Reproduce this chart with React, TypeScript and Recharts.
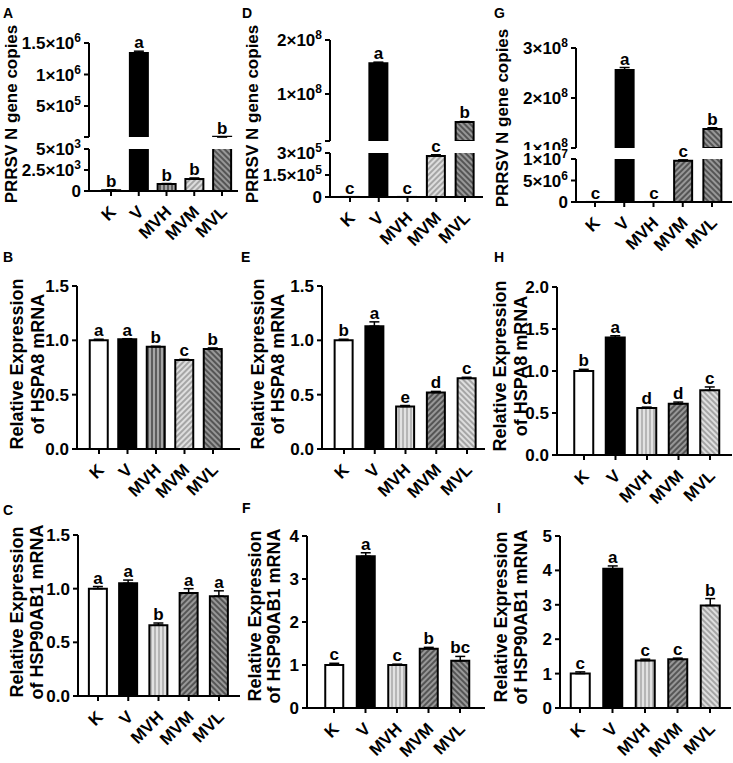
import React from "react"
import { BarChart, Bar, XAxis, YAxis, ErrorBar, LabelList, Cell } from "recharts"

const FONT = "'Liberation Sans', Arial, sans-serif"

const groups = ["K", "V", "MVH", "MVM", "MVL"]

// PRRSV N gene copies (A, D, G)
const copiesA = [100, 1340000, 830, 1430, 10000]
const copiesAErr = [40, 30000, 60, 120, 700]
const copiesASig = ["b", "a", "b", "b", "b"]
const copiesD = [500, 157000000, 500, 280000, 48000000]
const copiesDErr = [100, 2000000, 100, 8000, 1200000]
const copiesDSig = ["c", "a", "c", "c", "b"]
const copiesG = [10000, 256000000, 10000, 9600000, 138000000]
const copiesGErr = [1000, 5000000, 1000, 200000, 2500000]
const copiesGSig = ["c", "a", "c", "c", "b"]

// HSPA8 mRNA (B, E, H)
const hspa8B = [1.0, 1.01, 0.94, 0.82, 0.92]
const hspa8BErr = [0.01, 0.005, 0.005, 0.005, 0.01]
const hspa8BSig = ["a", "a", "b", "c", "b"]
const hspa8E = [1.0, 1.13, 0.39, 0.52, 0.65]
const hspa8EErr = [0.01, 0.04, 0.01, 0.01, 0.01]
const hspa8ESig = ["b", "a", "e", "d", "c"]
const hspa8H = [1.0, 1.4, 0.56, 0.61, 0.77]
const hspa8HErr = [0.02, 0.02, 0.01, 0.02, 0.04]
const hspa8HSig = ["b", "a", "d", "d", "c"]

// HSP90AB1 mRNA (C, F, I)
const hsp90C = [1.0, 1.05, 0.66, 0.96, 0.93]
const hsp90CErr = [0.02, 0.03, 0.02, 0.04, 0.05]
const hsp90CSig = ["a", "a", "b", "a", "a"]
const hsp90F = [1.0, 3.53, 1.0, 1.38, 1.1]
const hsp90FErr = [0.04, 0.08, 0.02, 0.03, 0.1]
const hsp90FSig = ["c", "a", "c", "b", "bc"]
const hsp90I = [1.0, 4.05, 1.38, 1.42, 2.98]
const hsp90IErr = [0.05, 0.08, 0.04, 0.03, 0.2]
const hsp90ISig = ["c", "a", "c", "c", "b"]

// y ticks
const ticksAUp = [8000, 500000, 1000000, 1500000]
const ticksALow = [0, 2500, 5000]
const ticksDUp = [13000000, 100000000, 200000000]
const ticksDLow = [0, 150000, 300000]
const ticksGUp = [100000000, 200000000, 300000000]
const ticksGLow = [0, 5000000, 10000000]
const ticks15 = [0, 0.5, 1.0, 1.5]
const ticks2 = [0, 0.5, 1.0, 1.5, 2.0]
const ticks4 = [0, 1, 2, 3, 4]
const ticks5 = [0, 1, 2, 3, 4, 5]

const W = "#fff"
const B = "#000"

type Seg = { top: number; bottom: number; domain: [number, number]; ticks: number[]; blank?: number }
type Panel = {
  x0: number; x1: number; c0: number; step: number; bar: number
  mean: number[]; err: number[]; sig: string[]; fills: string[]
  fmt: "sci" | "f1" | "int"; segs: Seg[]
}

const panels: Panel[] = [
  { x0: 89, x1: 238, c0: 111, step: 27.75, bar: 18, mean: copiesA, err: copiesAErr, sig: copiesASig,
    fills: [W, B, "url(#vDark)", "url(#fLight)", "url(#bDark)"], fmt: "sci",
    segs: [{ top: 43, bottom: 137, domain: [8000, 1500000], ticks: ticksAUp, blank: 8000 },
           { top: 149, bottom: 191, domain: [0, 5000], ticks: ticksALow }] },
  { x0: 330, x1: 483, c0: 350, step: 28.75, bar: 18, mean: copiesD, err: copiesDErr, sig: copiesDSig,
    fills: [W, B, "url(#vDark)", "url(#fLight)", "url(#bDark)"], fmt: "sci",
    segs: [{ top: 40, bottom: 141, domain: [13000000, 200000000], ticks: ticksDUp, blank: 13000000 },
           { top: 153, bottom: 197, domain: [0, 300000], ticks: ticksDLow }] },
  { x0: 576, x1: 732, c0: 595, step: 29.25, bar: 18, mean: copiesG, err: copiesGErr, sig: copiesGSig,
    fills: [W, B, "url(#vDark)", "url(#fDark)", "url(#bDark)"], fmt: "sci",
    segs: [{ top: 48, bottom: 148, domain: [100000000, 300000000], ticks: ticksGUp },
           { top: 159, bottom: 202, domain: [0, 10000000], ticks: ticksGLow }] },
  { x0: 77, x1: 240, c0: 99, step: 28.5, bar: 18, mean: hspa8B, err: hspa8BErr, sig: hspa8BSig,
    fills: [W, B, "url(#vDark)", "url(#fLight)", "url(#bDark)"], fmt: "f1",
    segs: [{ top: 286, bottom: 449, domain: [0, 1.5], ticks: ticks15 }] },
  { x0: 322, x1: 485, c0: 344, step: 30.75, bar: 18, mean: hspa8E, err: hspa8EErr, sig: hspa8ESig,
    fills: [W, B, "url(#vLight)", "url(#fDark)", "url(#bLight)"], fmt: "f1",
    segs: [{ top: 286, bottom: 449, domain: [0, 1.5], ticks: ticks15 }] },
  { x0: 557, x1: 732, c0: 584, step: 31.5, bar: 19, mean: hspa8H, err: hspa8HErr, sig: hspa8HSig,
    fills: [W, B, "url(#vLight)", "url(#fDark)", "url(#bLight)"], fmt: "f1",
    segs: [{ top: 287, bottom: 455, domain: [0, 2], ticks: ticks2 }] },
  { x0: 78, x1: 240, c0: 98, step: 30.25, bar: 18, mean: hsp90C, err: hsp90CErr, sig: hsp90CSig,
    fills: [W, B, "url(#vLight)", "url(#fDark)", "url(#bDark)"], fmt: "f1",
    segs: [{ top: 535, bottom: 696, domain: [0, 1.5], ticks: ticks15 }] },
  { x0: 307, x1: 485, c0: 334, step: 31.5, bar: 18, mean: hsp90F, err: hsp90FErr, sig: hsp90FSig,
    fills: [W, B, "url(#vLight)", "url(#fDark)", "url(#bDark)"], fmt: "int",
    segs: [{ top: 536, bottom: 708, domain: [0, 4], ticks: ticks4 }] },
  { x0: 560, x1: 731, c0: 580, step: 32.5, bar: 19, mean: hsp90I, err: hsp90IErr, sig: hsp90ISig,
    fills: [W, B, "url(#vLight)", "url(#fDark)", "url(#bLight)"], fmt: "int",
    segs: [{ top: 536, bottom: 708, domain: [0, 5], ticks: ticks5 }] },
]

const letters = [
  { t: "A", x: 3, y: 18 }, { t: "D", x: 242, y: 18 }, { t: "G", x: 494, y: 18 },
  { t: "B", x: 3, y: 262 }, { t: "E", x: 241, y: 262 }, { t: "H", x: 494, y: 262 },
  { t: "C", x: 3, y: 515 }, { t: "F", x: 242, y: 513 }, { t: "I", x: 497, y: 513 },
]

const titles = [
  { lines: ["PRRSV N gene copies"], xs: [11], y: 114, size: 17 },
  { lines: ["PRRSV N gene copies"], xs: [252], y: 114, size: 17 },
  { lines: ["PRRSV N gene copies"], xs: [502], y: 118, size: 17 },
  { lines: ["Relative Expression", "of HSPA8 mRNA"], xs: [17, 38], y: 364, size: 18 },
  { lines: ["Relative Expression", "of HSPA8 mRNA"], xs: [258, 278], y: 364, size: 18 },
  { lines: ["Relative Expression", "of HSPA8 mRNA"], xs: [500, 521], y: 366, size: 18 },
  { lines: ["Relative Expression", "of HSP90AB1 mRNA"], xs: [17, 37], y: 612, size: 18 },
  { lines: ["Relative Expression", "of HSP90AB1 mRNA"], xs: [255, 274], y: 616, size: 18 },
  { lines: ["Relative Expression", "of HSP90AB1 mRNA"], xs: [501, 521], y: 617, size: 18 },
]

function Patterns() {
  const mk = (id: string, bg: string, fg: string, rot: number, sw: number) => (
    <pattern key={id} id={id} width={4} height={4} patternUnits="userSpaceOnUse" patternTransform={`rotate(${rot})`}>
      <rect width={4} height={4} fill={bg} />
      <line x1={1} y1={-1} x2={1} y2={5} stroke={fg} strokeWidth={sw} />
    </pattern>
  )
  return (
    <svg width={0} height={0} style={{ position: "absolute" }}>
      <defs>
        {mk("vDark", "#5c5c5c", "#d8d8d8", 0, 1.2)}
        {mk("vLight", "#e2e2e2", "#8a8a8a", 0, 1)}
        {mk("fDark", "#555", "#cfcfcf", 45, 1.1)}
        {mk("fLight", "#dedede", "#777", 45, 1.1)}
        {mk("bDark", "#555", "#cfcfcf", -45, 1.1)}
        {mk("bLight", "#dedede", "#777", -45, 1.1)}
      </defs>
    </svg>
  )
}

function tickText(v: number, fmt: string) {
  if (fmt === "f1") return <tspan>{v.toFixed(1)}</tspan>
  if (fmt === "int") return <tspan>{String(v)}</tspan>
  if (v === 0) return <tspan>0</tspan>
  const e = Math.floor(Math.log10(v) + 1e-9)
  const m = +(v / Math.pow(10, e)).toFixed(2)
  return (
    <>
      <tspan>{`${m}×10`}</tspan>
      <tspan dy={-7} fontSize={12}>{String(e)}</tspan>
    </>
  )
}

function SegChart({ p, seg, showX }: { p: Panel; seg: Seg; showX: boolean }) {
  const YW = 76
  const MT = 26
  const MR = 4
  const XH = showX ? 58 : 0
  const plotH = seg.bottom - seg.top
  const plotW = p.x1 - p.x0
  const padL = p.c0 - p.step / 2 - p.x0
  const padR = p.x1 - (p.c0 + 4.5 * p.step)
  const ppu = plotH / (seg.domain[1] - seg.domain[0])
  const inSeg = (v: number) => v >= seg.domain[0] && v <= seg.domain[1]
  const data = groups.map((g, i) => ({
    g,
    v: p.mean[i],
    e: inSeg(p.mean[i]) ? [0, p.err[i]] : null,
    sig: p.sig[i],
  }))

  const renderSig = (props: any) => {
    const i = props.index
    if (!inSeg(p.mean[i])) return null
    const vb = props.viewBox || props
    const bx = vb.x ?? props.x
    const by = vb.y ?? props.y
    const bw = vb.width ?? props.width
    const bh = vb.height ?? props.height
    const top = Math.min(by, by + bh)
    const yy = top - p.err[i] * ppu - 3
    return (
      <text x={bx + bw / 2} y={yy} textAnchor="middle" fontSize={17} fontWeight={700} fontFamily={FONT} fill="#000">
        {props.value}
      </text>
    )
  }

  const YTick = (t: any) => {
    const v = t.payload.value
    if (seg.blank !== undefined && v === seg.blank) return <g />
    return (
      <text x={t.x - 1} y={t.y} dy={6} textAnchor="end" fontSize={17} fontWeight={700} fontFamily={FONT} fill="#000">
        {tickText(v, p.fmt)}
      </text>
    )
  }

  const XTick = (t: any) => (
    <g transform={`translate(${t.x + 6},${t.y + 15})`}>
      <text textAnchor="end" transform="rotate(-45)" fontSize={17} fontWeight={700} fontFamily={FONT} fill="#000">
        {t.payload.value}
      </text>
    </g>
  )

  return (
    <div style={{ position: "absolute", left: p.x0 - YW, top: seg.top - MT }}>
      <BarChart width={YW + plotW + MR} height={MT + plotH + XH + 2} data={data}
        margin={{ top: MT, right: MR, left: 0, bottom: 2 }}>
        <XAxis dataKey="g" hide={!showX} height={XH} interval={0}
          padding={{ left: padL, right: padR }}
          axisLine={{ stroke: "#000", strokeWidth: 2 }} tickLine={{ stroke: "#000", strokeWidth: 2 }}
          tickSize={5} tick={XTick} />
        <YAxis width={YW} type="number" domain={seg.domain} allowDataOverflow ticks={seg.ticks} interval={0}
          axisLine={{ stroke: "#000", strokeWidth: 2 }} tickLine={{ stroke: "#000", strokeWidth: 2 }}
          tickSize={5} tick={YTick} />
        <Bar dataKey="v" barSize={p.bar} stroke="#000" strokeWidth={2} isAnimationActive={false}>
          {data.map((d, i) => {
            const below = d.v < seg.domain[0]
            return <Cell key={d.g} fill={below ? "none" : p.fills[i]} stroke={below ? "none" : "#000"} />
          })}
          <ErrorBar dataKey="e" direction="y" width={5} stroke="#000" strokeWidth={1.5} />
          <LabelList dataKey="sig" content={renderSig} />
        </Bar>
      </BarChart>
    </div>
  )
}

export default function App() {
  return (
    <div style={{ position: "absolute", left: 0, top: 0, width: 733, height: 763, background: "#fff", overflow: "hidden" }}>
      <Patterns />
      <svg width={733} height={763} style={{ position: "absolute", left: 0, top: 0 }}>
        {letters.map((l) => (
          <text key={l.t} x={l.x} y={l.y} fontSize={14} fontWeight={700} fontFamily={FONT} fill="#000">{l.t}</text>
        ))}
        {titles.map((t, k) =>
          t.lines.map((ln, j) => (
            <text key={`${k}-${j}`} transform={`translate(${t.xs[j]},${t.y}) rotate(-90)`} textAnchor="middle"
              dominantBaseline="central" fontSize={t.size} fontWeight={700} fontFamily={FONT} fill="#000">
              {ln}
            </text>
          ))
        )}
      </svg>
      {panels.map((p, k) =>
        p.segs.map((s, j) => <SegChart key={`${k}-${j}`} p={p} seg={s} showX={j === p.segs.length - 1} />)
      )}
    </div>
  )
}
